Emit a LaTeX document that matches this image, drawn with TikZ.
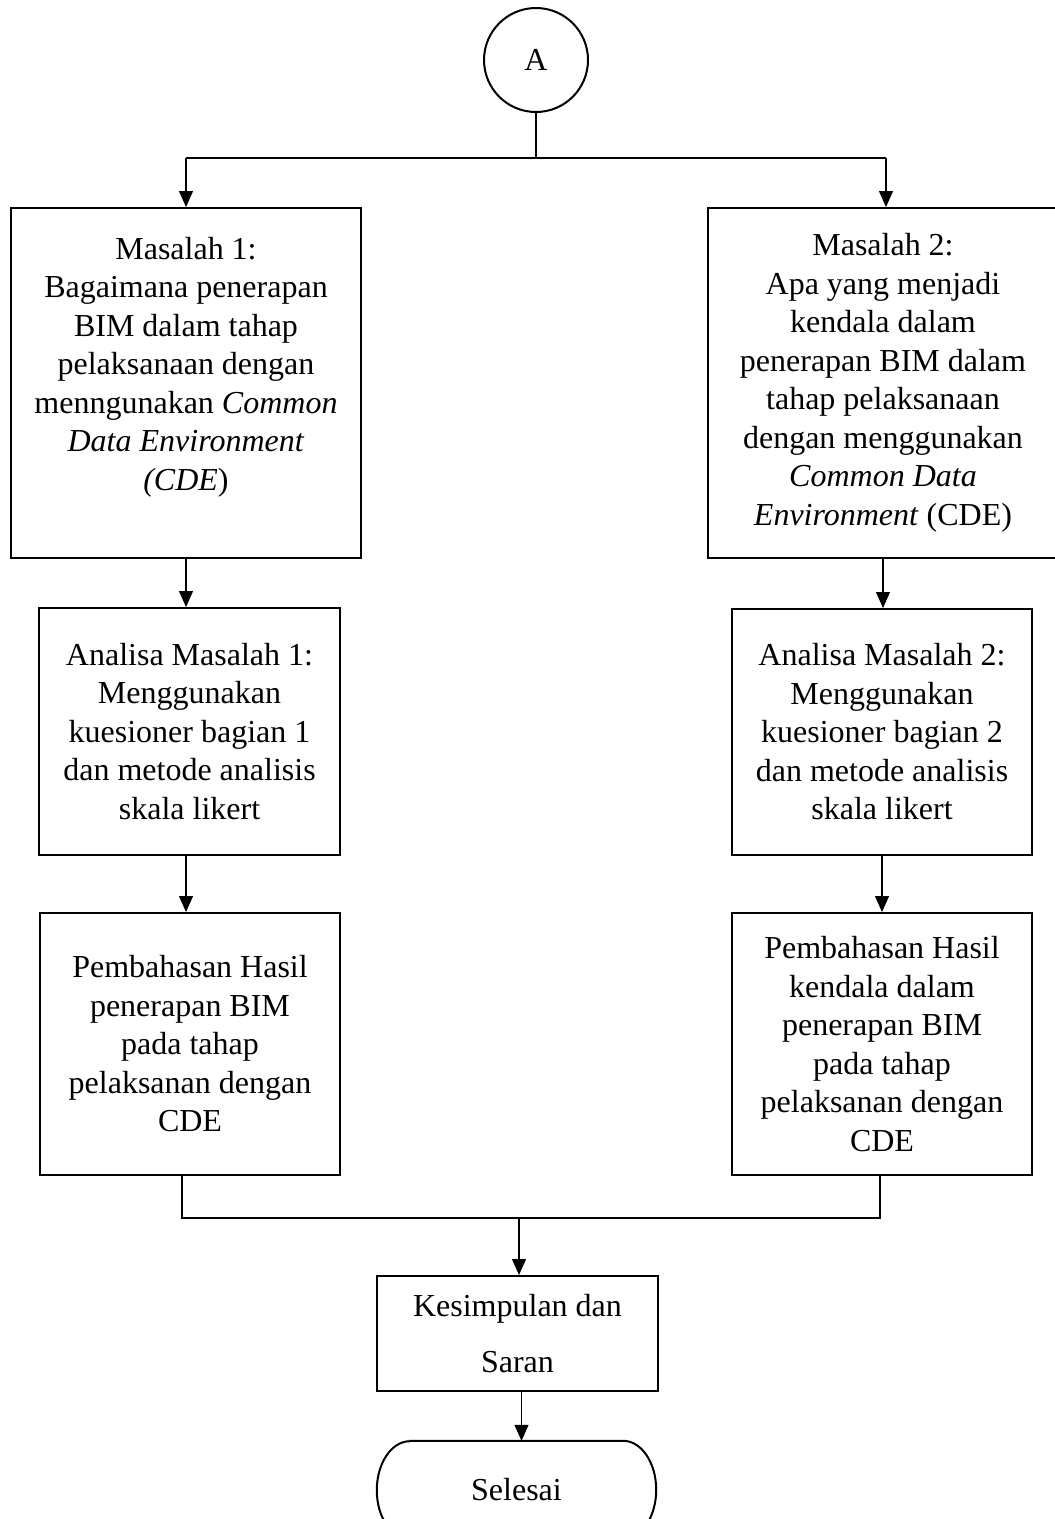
\documentclass[tikz,border=0pt]{standalone}
\usepackage{fontspec}
\setmainfont{Liberation Serif}
\usetikzlibrary{arrows.meta}

\begin{document}
\begin{tikzpicture}[x=1pt, y=-1pt,
    every node/.style={font=\fontsize{32pt}{38.5pt}\selectfont, inner sep=0pt, align=center},
    procbox/.style={draw, line width=2pt},
    link/.style={line width=1.2pt},
    flow/.style={link, -{Triangle[length=16pt, width=14pt]}}]
  \useasboundingbox (0,0) rectangle (1055,1519);

  % start connector
  \node[circle, draw, line width=2pt, minimum size=104pt] (circA) at (536,60) {A};
  \coordinate (split) at (536,158);
  \coordinate (splitL) at (186,158);
  \coordinate (splitR) at (886,158);

  % problem boxes
  \node[procbox, minimum width=350pt, minimum height=350pt] (masalah1) at (186,383)
    {Masalah 1:\\ Bagaimana penerapan\\ BIM dalam tahap\\ pelaksanaan dengan\\
     menngunakan \textit{Common}\\ \textit{Data Environment}\\ \textit{(CDE})\\ \mbox{}};
  \node[procbox, minimum width=350pt, minimum height=350pt] (masalah2) at (883,383)
    {Masalah 2:\\ Apa yang menjadi\\ kendala dalam\\ penerapan BIM dalam\\
     tahap pelaksanaan\\ dengan menggunakan\\ \textit{Common Data}\\ \textit{Environment} (CDE)};

  % analysis boxes
  \node[procbox, minimum width=301pt, minimum height=247pt] (analisa1) at (189.5,731.5)
    {Analisa Masalah 1:\\ Menggunakan\\ kuesioner bagian 1\\ dan metode analisis\\ skala likert};
  \node[procbox, minimum width=300pt, minimum height=246pt] (analisa2) at (882,732)
    {Analisa Masalah 2:\\ Menggunakan\\ kuesioner bagian 2\\ dan metode analisis\\ skala likert};

  % discussion boxes
  \node[procbox, minimum width=300pt, minimum height=262pt] (bahas1) at (190,1044)
    {Pembahasan Hasil\\ penerapan BIM\\ pada tahap\\ pelaksanan dengan\\ CDE};
  \node[procbox, minimum width=300pt, minimum height=262pt] (bahas2) at (882,1044)
    {Pembahasan Hasil\\ kendala dalam\\ penerapan BIM\\ pada tahap\\ pelaksanan dengan\\ CDE};

  % conclusion and end
  \coordinate (joinL) at (182,1218);
  \coordinate (joinR) at (880,1218);
  \coordinate (join) at (519,1218);
  \node[procbox, minimum width=281pt, minimum height=115pt,
        font=\fontsize{32pt}{56pt}\selectfont] (simpul) at (517.5,1333.5)
    {Kesimpulan dan\\ Saran};
  \node[minimum width=279pt, minimum height=98pt] (selesai) at (516.5,1490) {Selesai};
  \draw[line width=2pt] ([xshift=33pt]selesai.north west) -- ([xshift=-33pt]selesai.north east)
    arc[start angle=90, end angle=-90, x radius=33pt, y radius=49pt]
    -- ([xshift=33pt]selesai.south west)
    arc[start angle=270, end angle=90, x radius=33pt, y radius=49pt] -- cycle;
  \coordinate (endtop) at ([xshift=4pt]simpul.south);

  % connectors
  \draw[link] (circA.south) -- (split);
  \draw[link] (splitL) -- (splitR);
  \draw[flow] (splitL) -- (splitL |- masalah1.north);
  \draw[flow] (splitR) -- (splitR |- masalah2.north);
  \draw[flow] (masalah1.south) -- (masalah1.south |- analisa1.north);
  \draw[flow] (masalah2.south) -- (masalah2.south |- analisa2.north);
  \draw[flow] (analisa1.south -| masalah1.south) -- (masalah1.south |- bahas1.north);
  \draw[flow] (analisa2.south) -- (analisa2.south |- bahas2.north);
  \draw[link] (joinL |- bahas1.south) -- (joinL) -- (joinR) -- (joinR |- bahas2.south);
  \draw[flow] (join) -- (join |- simpul.north);
  \draw[flow] (endtop) -- (endtop |- selesai.north);
\end{tikzpicture}
\end{document}
